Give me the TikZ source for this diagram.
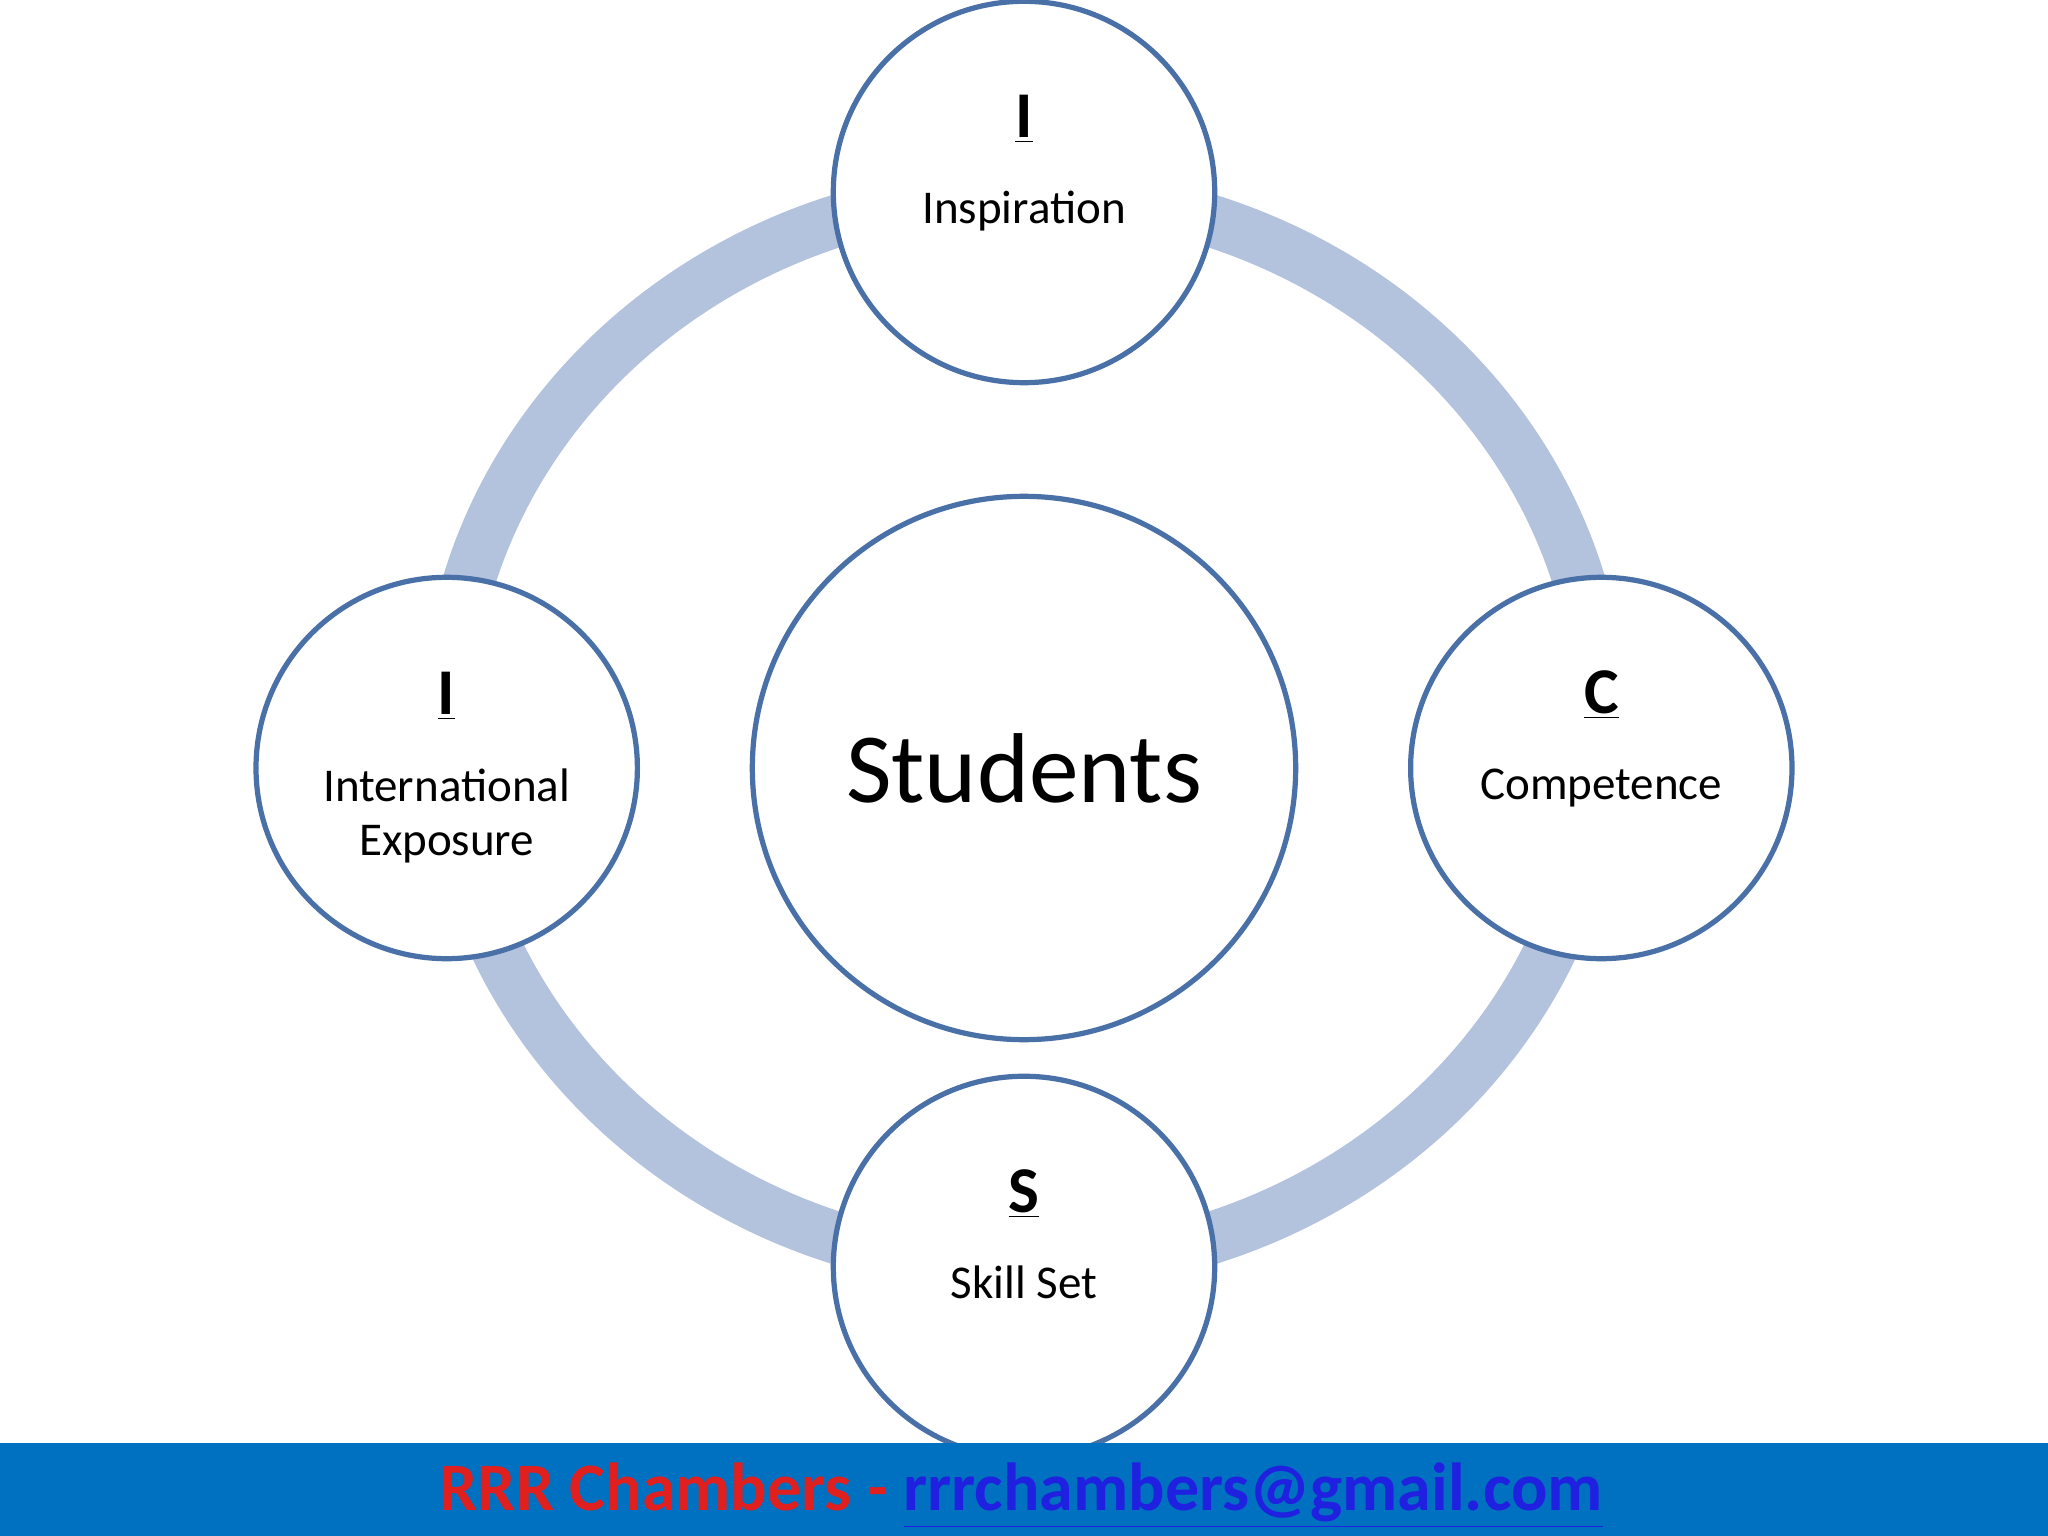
\documentclass[tikz,border=0pt]{standalone}
\usepackage{fontspec}
\setmainfont{Carlito}
\definecolor{edge}{HTML}{4A70A8}
\definecolor{ring}{HTML}{B3C2DD}
\definecolor{band}{HTML}{0070C0}
\definecolor{red1}{HTML}{E0201E}
\definecolor{blue1}{HTML}{2020E0}
\begin{document}
\begin{tikzpicture}[x=0.5pt,y=-0.5pt,
  sat/.style={circle,draw=edge,line width=2pt,fill=white,minimum size=146pt,inner sep=0pt,align=center,font=\fontsize{18}{21}\selectfont}]
\useasboundingbox (0,0) rectangle (1568,1176);
\fill[white] (0,0) rectangle (1568,1176);
\draw[ring,line width=20pt] (784,558.5) ellipse [x radius=442, y radius=411.5];
\node[circle,draw=edge,line width=2pt,fill=white,minimum size=208pt,font=\fontsize{38}{44}\selectfont] (stu) at (784,588) {Students};
\node[sat] (top) at (784,147) {{\fontsize{25}{28}\selectfont\bfseries\underline{I}}\\[12pt]Inspiration\\[4pt]};
\node[sat] (left) at (342,588) {{\fontsize{25}{28}\selectfont\bfseries\underline{I}}\\[12pt]International\\Exposure};
\node[sat] (right) at (1226,588) {{\fontsize{25}{28}\selectfont\bfseries\underline{C}}\\[12pt]Competence\\[4pt]};
\node[sat] (bot) at (784,970) {{\fontsize{25}{28}\selectfont\bfseries\underline{S}}\\[12pt]Skill Set\\[4pt]};
\fill[band] (0,1105) rectangle (1568,1176);
\node[font=\fontsize{26}{30}\selectfont\bfseries] (foot) at (782,1145) {\textcolor{red1}{RRR Chambers - }\textcolor{blue1}{\underline{rrrchambers@gmail.com}}};
\end{tikzpicture}
\end{document}
